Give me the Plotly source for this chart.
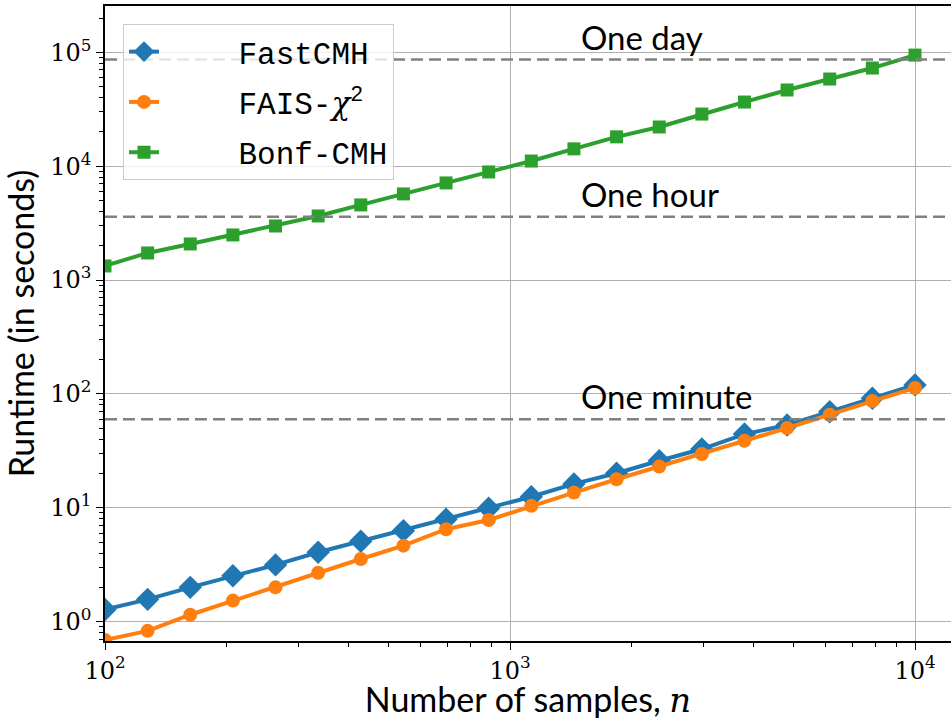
import numpy as np
import plotly.graph_objects as go

# Sample sizes (log-spaced from 1e2 to 1e4)
n_samples = np.logspace(2, 4, 20)

# Runtimes in seconds
fastcmh = [1.28, 1.57, 2.00, 2.53, 3.15, 4.07, 5.08, 6.30, 7.93, 9.90,
           12.5, 16.2, 20.1, 25.9, 32.8, 44.4, 53.3, 69.8, 91.5, 120]
fais_chi2 = [0.69, 0.83, 1.15, 1.53, 2.00, 2.69, 3.55, 4.65, 6.48, 7.81,
             10.4, 13.6, 17.8, 23.0, 29.7, 38.8, 50.2, 65.7, 86.7, 113]
bonf_cmh = [1330, 1730, 2075, 2490, 2985, 3655, 4570, 5710, 7130, 8900,
            11100, 14200, 18100, 22100, 28700, 36600, 46700, 58300, 72800, 94600]

# Reference time thresholds
thresholds = [("One minute", 60), ("One hour", 3600), ("One day", 86400)]
label_x = 1500

y_ticks = [1, 10, 100, 1000, 10000, 100000]
y_ticktext = ["10<sup>%d</sup>" % i for i in range(6)]
x_ticks = [100, 1000, 10000]
x_ticktext = ["10<sup>2</sup>", "10<sup>3</sup>", "10<sup>4</sup>"]

SANS = "Lato, 'DejaVu Sans', sans-serif"
SERIF = "'DejaVu Serif', 'Liberation Serif', serif"
MONO = "'Liberation Mono', 'DejaVu Sans Mono', monospace"
PAD = "&nbsp;&nbsp;&nbsp;&nbsp;"

fig = go.Figure()

series = [
    ("FastCMH", fastcmh, "#1f77b4", "diamond", 18),
    ("FAIS-<span style=\"font-family:%s\"><i>χ</i></span><sup>2</sup>" % SERIF,
     fais_chi2, "#ff7f0e", "circle", 14),
    ("Bonf-CMH", bonf_cmh, "#2ca02c", "square", 13),
]
for i, (name, vals, color, sym, size) in enumerate(series):
    fig.add_trace(go.Scatter(
        x=n_samples, y=vals, name=PAD + name, mode="lines+markers",
        legendgroup="g%d" % i,
        line=dict(color=color, width=4),
        marker=dict(symbol=sym, size=size, color=color, line=dict(width=0)),
        cliponaxis=True,
    ))

for label, secs in thresholds:
    fig.add_hline(y=secs, line=dict(color="#808080", width=2.5, dash="12px,6px"),
                  layer="above")
    fig.add_annotation(x=np.log10(label_x), y=np.log10(secs * 1.2), text=label,
                       showarrow=False, xanchor="left", yanchor="bottom",
                       yshift=-8, xshift=-2,
                       font=dict(family=SANS, size=33, color="black"))

minor_x = [m * 10 ** e for e in range(2, 5) for m in range(2, 10)]
minor_y = [m * 10 ** e for e in range(-1, 6) for m in range(2, 10)]

fig.update_xaxes(
    type="log", range=[2, 4.0889], automargin=False,
    tickvals=x_ticks, ticktext=x_ticktext,
    tickfont=dict(family=SERIF, size=24, color="black"),
    ticks="outside", ticklen=7, tickwidth=1.2, tickcolor="black",
    showgrid=True, gridcolor="#b0b0b0", gridwidth=1,
    showline=True, linecolor="black", linewidth=1.5, mirror=True,
    zeroline=False,
    minor=dict(tickvals=minor_x, ticks="outside", ticklen=4, tickcolor="black",
               showgrid=False),
    title=dict(text="Number of samples, <span style=\"font-family:%s\"><i>n</i></span>" % SERIF,
               font=dict(family=SANS, size=34, color="black"), standoff=15),
)
fig.update_yaxes(
    type="log", range=[-0.17, 5.407], automargin=False,
    tickvals=y_ticks, ticktext=y_ticktext,
    tickfont=dict(family=SERIF, size=24, color="black"),
    ticks="outside", ticklen=7, tickwidth=1.2, tickcolor="black",
    showgrid=True, gridcolor="#b0b0b0", gridwidth=1,
    showline=True, linecolor="black", linewidth=1.5, mirror=False,
    zeroline=False,
    minor=dict(tickvals=minor_y, ticks="outside", ticklen=4, tickcolor="black",
               showgrid=False),
    title=dict(text="Runtime (in seconds)",
               font=dict(family=SANS, size=34, color="black"), standoff=8),
)

fig.update_layout(
    width=951, height=720,
    margin=dict(l=105, r=0, t=6, b=79),
    paper_bgcolor="white", plot_bgcolor="white",
    showlegend=True,
    legend=dict(
        x=0.0213, y=0.9717, xanchor="left", yanchor="top",
        bgcolor="rgba(255,255,255,0.8)", bordercolor="#cccccc", borderwidth=1,
        font=dict(family=MONO, size=31, color="black"),
        tracegroupgap=7,
    ),
)

fig.write_html("out.html")
